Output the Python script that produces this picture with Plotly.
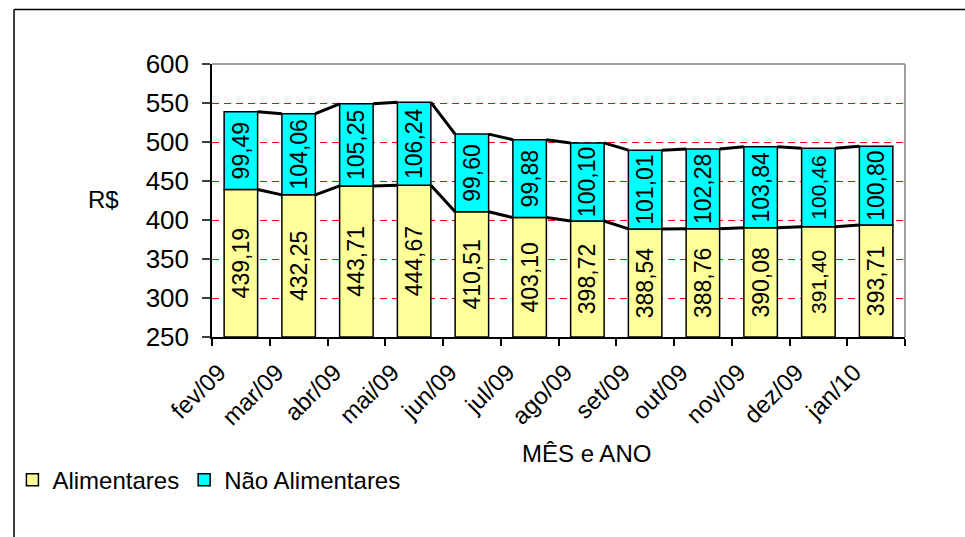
import plotly.graph_objects as go

months = ["fev/09", "mar/09", "abr/09", "mai/09", "jun/09", "jul/09",
          "ago/09", "set/09", "out/09", "nov/09", "dez/09", "jan/10"]
alimentares = [439.19, 432.25, 443.71, 444.67, 410.51, 403.10,
               398.72, 388.54, 388.76, 390.08, 391.40, 393.71]
nao_alimentares = [99.49, 104.06, 105.25, 106.24, 99.60, 99.88,
                   100.10, 101.01, 102.28, 103.84, 100.46, 100.80]
y_min, y_max, y_step = 250, 600, 50

FONT = "Liberation Sans, Arial, sans-serif"
BAR_W = 0.58


def fmt(v):
    return f"{v:.2f}".replace(".", ",")


totals = [a + n for a, n in zip(alimentares, nao_alimentares)]
label_sizes = [23] * 10 + [21, 23]

fig = go.Figure()
fig.add_trace(go.Bar(
    x=months, y=[a - y_min for a in alimentares], base=[y_min] * len(months),
    name="Alimentares", width=BAR_W,
    marker=dict(color="#FFFF99", line=dict(color="black", width=1.5)),
    text=[fmt(v) for v in alimentares], textposition="inside",
    insidetextanchor="middle", textangle=-90,
    textfont=dict(size=label_sizes, color="black", family=FONT),
    hovertext=[fmt(v) for v in alimentares], hoverinfo="text",
))
fig.add_trace(go.Bar(
    x=months, y=nao_alimentares, base=alimentares,
    name="Não Alimentares", width=BAR_W,
    marker=dict(color="#00FFFF", line=dict(color="black", width=1.5)),
    text=[fmt(v) for v in nao_alimentares], textposition="inside",
    insidetextanchor="middle", textangle=-90,
    textfont=dict(size=label_sizes, color="black", family=FONT),
    hovertext=[fmt(v) for v in nao_alimentares], hoverinfo="text",
))

# Excel-style series lines between bars
for series in (alimentares, totals):
    xs, ys = [], []
    for i in range(len(series) - 1):
        xs += [i + BAR_W / 2, i + 1 - BAR_W / 2, None]
        ys += [series[i], series[i + 1], None]
    fig.add_trace(go.Scatter(
        x=xs, y=ys, xaxis="x2", mode="lines",
        line=dict(color="black", width=3),
        showlegend=False, hoverinfo="skip",
    ))

fig.update_layout(
    width=965, height=537,
    margin=dict(l=205, r=60, t=64, b=200),
    paper_bgcolor="white", plot_bgcolor="white",
    barmode="overlay",
    font=dict(family=FONT, size=24, color="black"),
    xaxis=dict(
        type="category", range=[-0.5, len(months) - 0.5],
        tickson="boundaries", ticks="outside", ticklen=7, tickcolor="black",
        tickwidth=1.5, tickangle=-45, tickfont=dict(size=24),
        ticklabelshift=-22, ticklabelstandoff=10,
        showline=True, linecolor="black", linewidth=1.5, showgrid=False,
    ),
    xaxis2=dict(
        overlaying="x", range=[-0.5, len(months) - 0.5], visible=False,
        showgrid=False,
    ),
    yaxis=dict(
        range=[y_min, y_max], dtick=y_step, tick0=y_min,
        ticks="outside", ticklen=8, tickcolor="#404040", tickwidth=1.5,
        tickfont=dict(size=26), ticklabelstandoff=8,
        showline=True, linecolor="black", linewidth=1.5,
        showgrid=True, gridcolor="#FF0000", gridwidth=1, griddash="7px,5px",
        zeroline=False,
    ),
    legend=dict(
        orientation="h", x=-0.288, y=-0.524, xanchor="left", yanchor="middle",
        font=dict(size=24), traceorder="normal", itemwidth=30,
        bgcolor="rgba(0,0,0,0)",
    ),
    showlegend=True,
    annotations=[
        dict(text="R$", x=-0.156, y=0.502, xref="paper", yref="paper",
             xanchor="center", yanchor="middle",
             showarrow=False, font=dict(size=24)),
        dict(text="MÊS e ANO", x=0.54, y=-0.428, xref="paper", yref="paper",
             xanchor="center", yanchor="middle",
             showarrow=False, font=dict(size=24)),
    ],
    shapes=[
        # plot-area top and right border (gray)
        dict(type="line", xref="paper", yref="paper", x0=0, x1=1, y0=1, y1=1,
             line=dict(color="#808080", width=1.5), layer="above"),
        dict(type="line", xref="paper", yref="paper", x0=1, x1=1, y0=0, y1=1,
             line=dict(color="#808080", width=1.5), layer="above"),
        # outer chart border
        dict(type="line", xref="paper", yref="paper", x0=-0.2857, x1=1.2,
             y0=1.2, y1=1.2, line=dict(color="black", width=1.5)),
        dict(type="line", xref="paper", yref="paper", x0=-0.2857, x1=-0.2857,
             y0=1.2, y1=-0.8, line=dict(color="black", width=1.5)),
    ],
)

fig.write_html(
    "out.html",
    config={"displayModeBar": False},
    post_script="document.body.style.margin='0';document.body.style.overflow='hidden';",
)
